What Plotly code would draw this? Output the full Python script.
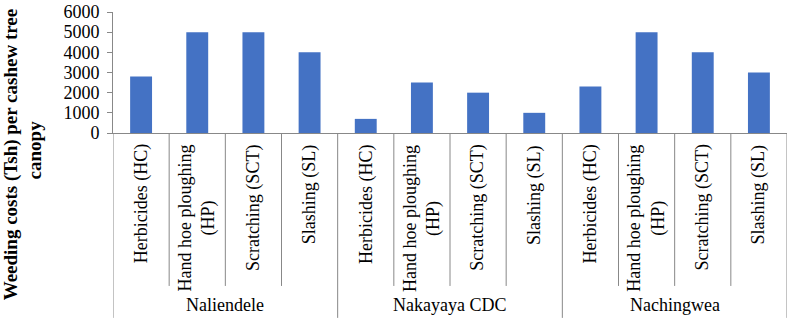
import plotly.graph_objects as go

sites = ["Naliendele", "Nakayaya CDC", "Nachingwea"]
methods = ["Herbicides (HC)", "Hand hoe ploughing<br>(HP)", "Scratching (SCT)", "Slashing (SL)"]
naliendele = [2800, 5000, 5000, 4000]
nakayaya = [700, 2500, 2000, 1000]
nachingwea = [2300, 5000, 4000, 3000]
y_ticks = [0, 1000, 2000, 3000, 4000, 5000, 6000]
y_title_lines = ["Weeding costs (Tsh) per cashew tree", "canopy"]

values = naliendele + nakayaya + nachingwea
keys = [f"{s}|{m}" for s in sites for m in methods]

FONT = "Liberation Serif"
AXIS = "#888888"
L, R, T, B = 113, 2, 8, 191
W_PLOT = 789 - L - R

fig = go.Figure()
fig.add_trace(go.Bar(x=keys, y=values, marker=dict(color="#4472C4", line=dict(width=0)),
                     width=0.39))

H = 125.0
def py(p):
    return (133.0 - p) / H
def px(p):
    return (p - L) / W_PLOT

annotations = []
shapes = []
n = len(keys)
for i, k in enumerate(keys):
    m = k.split("|", 1)[1]
    annotations.append(dict(x=k, xref="x", y=py(143), yref="paper", text=m,
                            textangle=-90, xanchor="center", yanchor="top",
                            showarrow=False, font=dict(family=FONT, size=18, color="#000")))
for j, s in enumerate(sites):
    annotations.append(dict(x=keys[j * 4 + 1], xref="x", y=py(311), yref="paper",
                            text=s, xshift=28, xanchor="center", yanchor="middle",
                            showarrow=False, font=dict(family=FONT, size=18, color="#000")))
for b in range(n + 1):
    xpos = b - 0.5
    group_edge = (b % 4 == 0)
    shapes.append(dict(type="line", xref="x", yref="paper", x0=xpos, x1=xpos,
                       y0=0, y1=py(324) if group_edge else py(291),
                       line=dict(color=AXIS, width=1)))

for txt, xp, yp in zip(y_title_lines, [11, 34], [155, 151]):
    annotations.append(dict(x=px(xp), xref="paper", y=py(yp), yref="paper", text=txt,
                            textangle=-90, xanchor="center", yanchor="middle", showarrow=False,
                            font=dict(family=FONT, size=19, color="#000", weight="bold")))

fig.update_layout(
    width=789, height=324,
    margin=dict(l=L, r=R, t=T, b=B),
    paper_bgcolor="white", plot_bgcolor="white",
    showlegend=False,
    bargap=0.61,
    xaxis=dict(type="category", range=[-0.5, n - 0.5], showticklabels=False,
               showline=True, linecolor=AXIS, linewidth=1, ticks="", showgrid=False,
               zeroline=False),
    yaxis=dict(range=[0, 6000], tickvals=y_ticks, showline=True, linecolor=AXIS,
               linewidth=1, ticks="outside", ticklen=5, tickcolor=AXIS, showgrid=False,
               zeroline=False, ticklabeloverflow="allow", ticklabelstandoff=4,
               tickfont=dict(family=FONT, size=18, color="#000")),
    annotations=annotations, shapes=shapes,
)

fig.write_html("out.html", config={"displayModeBar": False},
               post_script="document.body.style.margin='0';document.body.style.overflow='hidden';")
